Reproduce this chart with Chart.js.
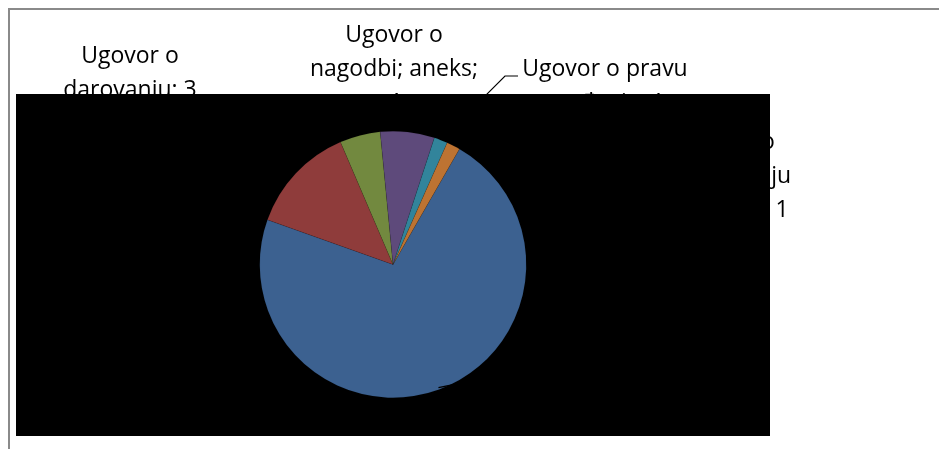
<html lang="hr">
<head>
    <meta charset="UTF-8">
    <title>Ugovori</title>
    <style>
        body { margin: 0; background: #fff; }
        #pieChart { display: block; }
    </style>
</head>
<body>

    <canvas id="pieChart" width="939" height="449"></canvas>

    <script src="https://cdnjs.cloudflare.com/ajax/libs/Chart.js/4.4.0/chart.umd.min.js"></script>

    <script>
        // data
        const categories = ['Ugovor o kupoprodaji', 'Ugovor o zakupu', 'Ugovor o darovanju', 'Ugovor o nagodbi; aneks;', 'Ugovor o pravu građenja', 'Ugovor o uzdržavanju'];
        const counts = [44, 8, 3, 4, 1, 1];
        const sliceColors = ['#3c6190', '#8f3c3b', '#72893f', '#5e4a7b', '#32849b', '#bd7332'];

        // wrapped label text, one list of lines per slice
        const labelLines = [
            ['Ugovor o', 'kupoprodaji: 44'],
            ['Ugovor o', 'zakupu: 8'],
            ['Ugovor o', 'darovanju: 3'],
            ['Ugovor o', 'nagodbi; aneks;', '4'],
            ['Ugovor o pravu', 'građenja: 1'],
            ['Ugovor o', 'uzdržavanju', 'doživotno 1']
        ];

        // where each label sits (centre x, first baseline)
        var labelPos = [[560, 350], [200, 230], [130, 63], [394, 42], [605, 76], [726, 149]];
        var lineGap = 34;

        var pieExtras = {
            id: 'pieExtras',
            beforeDraw: function (chart) {
                var ctx = chart.ctx;
                ctx.save();
                // white page
                ctx.fillStyle = '#ffffff';
                ctx.fillRect(0, 0, chart.width, chart.height);
                // chart frame
                ctx.strokeStyle = '#8a8a8a';
                ctx.lineWidth = 2;
                ctx.strokeRect(9, 9, chart.width + 20, chart.height + 20);
                // data labels
                ctx.fillStyle = '#000000';
                ctx.font = '23px "Open Sans"';
                ctx.textAlign = 'center';
                ctx.textBaseline = 'alphabetic';
                labelLines.forEach(function (lines, i) {
                    var p = labelPos[i];
                    lines.forEach(function (t, j) {
                        ctx.fillText(t, p[0], p[1] + j * lineGap);
                    });
                });
                // pravu leader, upper part
                ctx.strokeStyle = '#000000';
                ctx.lineWidth = 1.2;
                var arc = chart.getDatasetMeta(0).data[4];
                var mid = (arc.startAngle + arc.endAngle) / 2;
                ctx.beginPath();
                ctx.moveTo(518, 76);
                ctx.lineTo(505, 76);
                ctx.lineTo(arc.x + Math.cos(mid) * arc.outerRadius, arc.y + Math.sin(mid) * arc.outerRadius);
                ctx.stroke();
                // black plot area
                ctx.fillStyle = '#000000';
                ctx.fillRect(16, 94, 754, 342);
                ctx.restore();
            },
            afterDatasetsDraw: function (chart) {
                var ctx = chart.ctx;
                ctx.save();
                ctx.strokeStyle = '#000000';
                ctx.lineWidth = 1.5;
                // leader of the big slice, only its tip shows
                var arc = chart.getDatasetMeta(0).data[0];
                var mid = (arc.startAngle + arc.endAngle) / 2;
                var r = arc.outerRadius;
                ctx.beginPath();
                ctx.moveTo(arc.x + Math.cos(mid) * (r - 2), arc.y + Math.sin(mid) * (r - 2));
                ctx.lineTo(arc.x + Math.cos(mid) * r + 25, arc.y + Math.sin(mid) * r - 7);
                ctx.stroke();
                ctx.restore();
            }
        };

        new Chart('pieChart', {
            type: 'pie',
            data: {
                labels: categories,
                datasets: [{
                    data: counts,
                    backgroundColor: sliceColors,
                    borderColor: 'rgba(0,0,0,0.15)',
                    borderWidth: 0.5
                }]
            },
            options: {
                responsive: false,
                animation: false,
                rotation: 29.9,
                layout: {
                    padding: { left: 259, right: 412, top: 131, bottom: 51 }
                },
                plugins: {
                    legend: { display: false },
                    tooltip: { enabled: false }
                }
            },
            plugins: [pieExtras]
        });
    </script>

</body>
</html>
